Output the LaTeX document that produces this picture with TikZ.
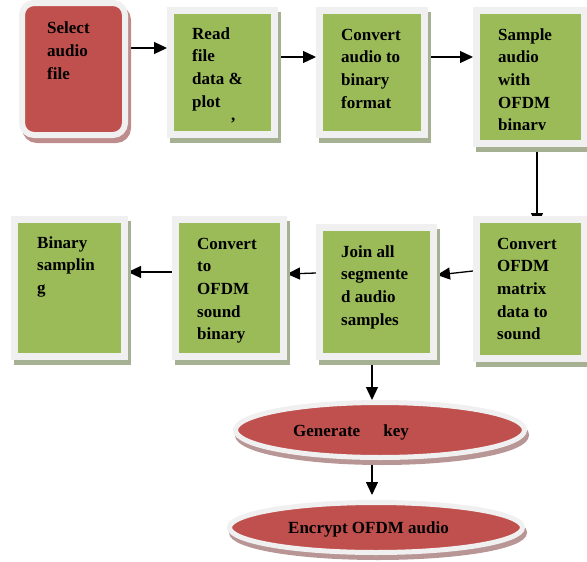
\documentclass[tikz,border=0pt]{standalone}
\usepackage{fontspec}
\setmainfont{Liberation Serif}
\usetikzlibrary{arrows.meta,shapes.geometric}
\definecolor{boxred}{HTML}{C0504D}
\definecolor{boxgreen}{HTML}{9BBB59}
\definecolor{rim}{HTML}{F0F0F0}
\definecolor{greenshadow}{RGB}{166,176,146}
\definecolor{redshadow}{RGB}{190,140,140}
\definecolor{ovalshadow}{RGB}{185,150,150}
\pgfdeclarelayer{bg}
\pgfsetlayers{bg,main}
\newcommand{\btxt}[1]{\parbox[t]{110pt}{\raggedright\bfseries\fontsize{17}{22.7}\selectfont #1}}
\begin{document}
\begin{tikzpicture}[x=1pt,y=-1pt,
  gbox/.style={rectangle, fill=boxgreen, draw=rim, line width=7pt, inner sep=0pt,
    preaction={fill=greenshadow, draw=greenshadow, line width=7pt,
      transform canvas={shift={(3pt,-5pt)}}}},
  rbox/.style={rectangle, rounded corners=12pt, fill=boxred, draw=rim, line width=6pt, inner sep=0pt,
    preaction={fill=redshadow, draw=redshadow, line width=6pt,
      transform canvas={shift={(3pt,-5pt)}}}},
  oval/.style={ellipse, fill=boxred, draw=rim, line width=5pt, inner sep=0pt,
    preaction={fill=ovalshadow, draw=ovalshadow, line width=5pt,
      transform canvas={shift={(2pt,-5pt)}}}},
  txt/.style={anchor=base west, inner sep=0pt, text=black},
  otxt/.style={anchor=base west, inner sep=0pt, text=black, font=\bfseries\fontsize{17}{20}\selectfont},
  arr/.style={draw=black, line width=1.3pt, -{Triangle[length=13pt,width=12pt]}}
]
\useasboundingbox (0,0) rectangle (587,562);
\clip (0,0) rectangle (587,562);

% boxes
\node[rbox, minimum width=103pt, minimum height=132pt] (b1) at (73.5,69) {};
\node[gbox, minimum width=104pt, minimum height=124pt] (b2) at (222.5,72.5) {};
\node[gbox, minimum width=105pt, minimum height=124pt] (b3) at (372,72.5) {};
\node[gbox, minimum width=108pt, minimum height=133pt] (b4) at (530.5,77) {};
\node[gbox, minimum width=108pt, minimum height=139pt] (b5) at (530.5,289) {};
\node[gbox, minimum width=114pt, minimum height=129pt] (b6) at (376.5,292) {};
\node[gbox, minimum width=108pt, minimum height=137pt] (b7) at (229.5,288) {};
\node[gbox, minimum width=110pt, minimum height=137pt] (b8) at (69.5,288) {};
\node[oval, minimum width=289pt, minimum height=55pt] (e1) at (380,430) {};
\node[oval, minimum width=293pt, minimum height=50pt] (e2) at (376,527.5) {};

% texts
\node[txt] (t1) at (47,34) {\btxt{Select\\audio\\file}};
\node[txt] (t2) at (192,39) {\btxt{Read\\file\\data \&\\plot}};
\node[txt] (t2c) at (231,120) {\btxt{,}};
\node[txt] (t3) at (341,40) {\btxt{Convert\\audio to\\binary\\format}};
\begin{scope}
  \clip (470,0) rectangle (587,129);
  \node[txt] (t4) at (498,40) {\btxt{Sample\\audio\\with\\OFDM\\binary}};
\end{scope}
\node[txt] (t5) at (497,249) {\btxt{Convert\\OFDM\\matrix\\data to\\sound}};
\node[txt] (t6) at (341,257) {\btxt{Join all\\segmente\\d audio\\samples}};
\node[txt] (t7) at (197,249) {\btxt{Convert\\to\\OFDM\\sound\\binary}};
\node[txt] (t8) at (37,248) {\btxt{Binary\\samplin\\g}};
\node[otxt] (t9) at (293,436) {Generate\hspace{19pt} key};
\node[otxt] (t10) at (288,533) {Encrypt OFDM audio};

% connectors (behind the boxes)
\begin{pgfonlayer}{bg}
\draw[arr] ([yshift=21pt]b1.east) -- ([yshift=24.5pt]b2.west);
\draw[arr] ([yshift=15.5pt]b2.east) -- ([yshift=15.5pt]b3.west);
\draw[arr] ([yshift=15.5pt]b3.east) -- ([yshift=20pt]b4.west);
\draw[arr] ([xshift=6.5pt]b4.south) -- ([xshift=6.5pt,yshift=-10pt]b5.north);
\draw[arr] ([yshift=18pt]b5.west) -- ([yshift=17pt]b6.east);
\draw[arr] ([yshift=19pt]b6.west) -- ([yshift=14pt]b7.east);
\draw[arr] ([yshift=16pt]b7.west) -- ([yshift=16pt]b8.east);
\draw[arr] ([xshift=-4.5pt]b6.south) -- ([xshift=-8pt]e1.north);
\draw[arr] ([xshift=-8pt]e1.south) -- ([xshift=-4pt,yshift=5pt]e2.north);
\end{pgfonlayer}
\end{tikzpicture}
\end{document}
